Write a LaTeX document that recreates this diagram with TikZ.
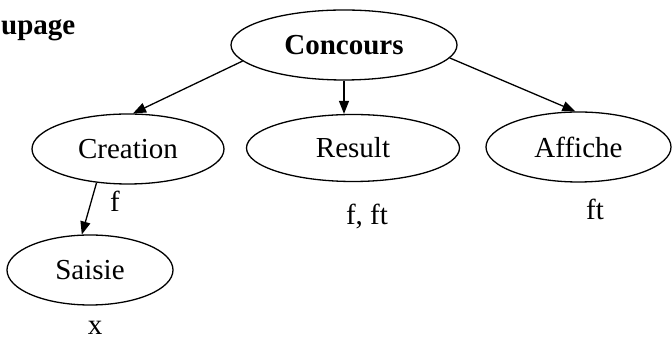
\documentclass[tikz,border=0pt]{standalone}
\usepackage{fontspec}
\setmainfont{Liberation Serif}
\usetikzlibrary{shapes.geometric,arrows.meta}
\begin{document}
\begin{tikzpicture}[x=1pt,y=1pt,
  oval/.style={draw,ellipse,line width=1.3pt,inner sep=0pt,font=\fontsize{29}{32}\selectfont},
  arr/.style={line width=1.3pt,-{Triangle[length=13pt,width=10pt]}},
  lbl/.style={anchor=base,inner sep=0pt,font=\fontsize{29}{32}\selectfont}]
\useasboundingbox (0,0) rectangle (672,342);
\fill[white] (0,0) rectangle (672,342);

% heading fragment
\node[anchor=base west,inner sep=0pt,font=\fontsize{29}{32}\selectfont\bfseries] (head) at (1,307) {upage};

% tree nodes
\node[oval,minimum width=226pt,minimum height=70pt,font=\fontsize{29}{32}\selectfont\bfseries] (con) at (344,297) {Concours};
\node[oval,minimum width=192pt,minimum height=70pt] (cre) at (128,193) {Creation};
\node[oval,minimum width=213pt,minimum height=67pt] (res) at (353,194) {Result};
\node[oval,minimum width=185pt,minimum height=70pt] (aff) at (578.5,195) {Affiche};
\node[oval,minimum width=166pt,minimum height=70pt] (sai) at (90,72) {Saisie};

% connectors
\draw[arr] (con.189) -- (cre.82);
\draw[arr] (con.south) -- (res.north -| con.south);
\draw[arr] (con.-7) -- (aff.95);
\draw[arr] (cre.227) -- (sai.103);

% annotations
\node[lbl] (lf) at (115,130) {f};
\node[lbl] (lfft) at (367,117) {f, ft};
\node[lbl] (lft) at (595,122) {ft};
\node[lbl] (lx) at (95,7) {x};
\end{tikzpicture}
\end{document}
